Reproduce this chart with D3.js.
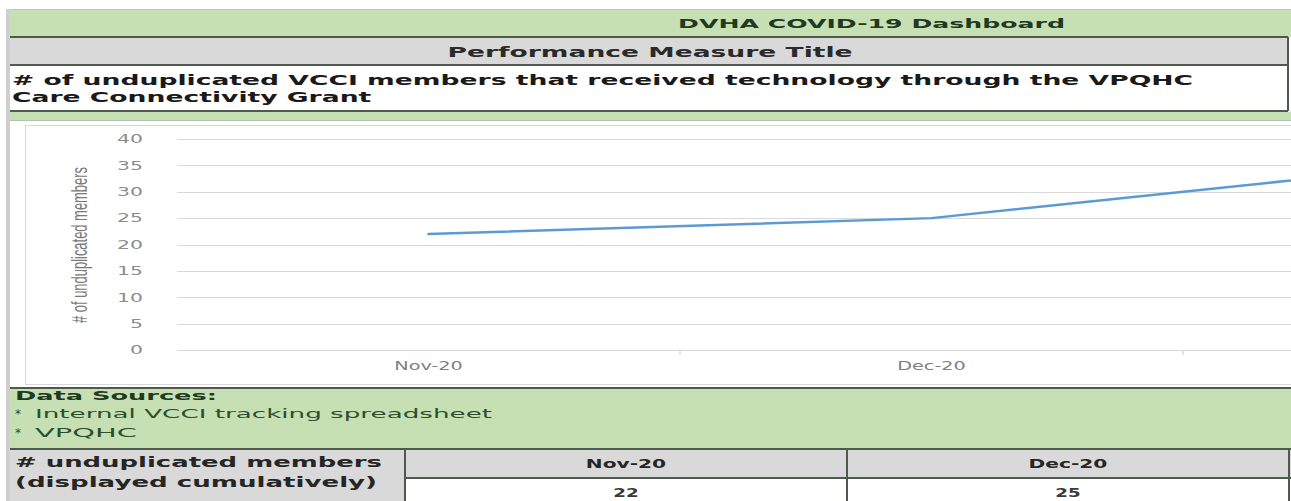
<!DOCTYPE html>
<html>
<head>
<meta charset="utf-8">
<script src="https://cdn.jsdelivr.net/npm/d3@7"></script>
<style>
  html, body { margin: 0; padding: 0; background: #ffffff; }
  svg { display: block; font-family: "DejaVu Sans", Verdana, sans-serif; }
</style>
</head>
<body>
<div id="dash"></div>
<script>
// chart data
const months = ["Nov-20", "Dec-20", "Jan-21"];
const members = [22, 25, 35];
const yTicks = [0, 5, 10, 15, 20, 25, 30, 35, 40];

// text of the sheet
const dashTitle = "DVHA COVID-19 Dashboard";
const measureHead = "Performance Measure Title";
const measureLines = ["# of unduplicated VCCI members that received technology through the VPQHC",
                      "Care Connectivity Grant"];
const yTitle = "# of unduplicated members";
const sourcesHead = "Data Sources:";
const sources = ["Internal VCCI tracking spreadsheet", "VPQHC"];
const rowLabel = ["# unduplicated members", "(displayed cumulatively)"];

const W = 1291, H = 501;
const green = "#c6e0b4", grey = "#d9d9d9", dark = "#4e5a4e";

const svg = d3.select("#dash").append("svg")
    .attr("width", W)
    .attr("height", H);

// stretch text to a given width (the screenshot is wide)
function fit(sel, w) {
    sel.attr("textLength", w).attr("lengthAdjust", "spacingAndGlyphs");
}
function stretch(sel, k) {
    sel.each(function () {
        const n = this.getComputedTextLength();
        d3.select(this).attr("textLength", n * k).attr("lengthAdjust", "spacingAndGlyphs");
    });
}

// left outer border
svg.append("rect").attr("x", 6).attr("y", 9).attr("width", 4).attr("height", H - 9).attr("fill", "#cfcfcf");

// header band
svg.append("rect").attr("x", 10).attr("y", 9).attr("width", W - 10).attr("height", 28).attr("fill", green);
svg.append("line").attr("x1", 10).attr("x2", W).attr("y1", 9.5).attr("y2", 9.5).attr("stroke", "#b9c9b0");
svg.append("text").attr("x", 678).attr("y", 28)
    .attr("font-size", 13).attr("font-weight", "bold").attr("fill", "#1f3a1f")
    .text(dashTitle).call(fit, 387);

// measure title rows
svg.append("rect").attr("x", 10).attr("y", 38).attr("width", 1278).attr("height", 27).attr("fill", grey);
svg.append("text").attr("x", 650).attr("y", 57).attr("text-anchor", "middle")
    .attr("font-size", 13.5).attr("font-weight", "bold").attr("fill", "#2a2a2a")
    .text(measureHead).call(fit, 405);

svg.append("rect").attr("x", 10).attr("y", 66).attr("width", 1278).attr("height", 44).attr("fill", "#ffffff");
const t1 = svg.append("text").attr("x", 12).attr("y", 85)
    .attr("font-size", 14).attr("font-weight", "bold").attr("fill", "#1a1a1a")
    .text(measureLines[0]);
const k = 1181 / t1.node().getComputedTextLength();
fit(t1, 1181);
svg.append("text").attr("x", 12).attr("y", 102)
    .attr("font-size", 14).attr("font-weight", "bold").attr("fill", "#1a1a1a")
    .text(measureLines[1]).call(stretch, k);

svg.append("rect").attr("x", 10).attr("y", 112).attr("width", W - 10).attr("height", 8).attr("fill", green);

[37, 65, 111].forEach(yy => {
    svg.append("line").attr("x1", 10).attr("x2", 1288).attr("y1", yy).attr("y2", yy)
        .attr("stroke", dark).attr("stroke-width", 2);
});
svg.append("line").attr("x1", 1288).attr("x2", 1288).attr("y1", 37).attr("y2", 111)
    .attr("stroke", dark).attr("stroke-width", 2);
svg.append("line").attr("x1", 10).attr("x2", W).attr("y1", 120.5).attr("y2", 120.5).attr("stroke", "#b5c0b0");

// chart area
svg.append("rect").attr("x", 25.5).attr("y", 125.5).attr("width", 1300).attr("height", 259)
    .attr("fill", "#ffffff").attr("stroke", "#d9d9d9");

const x = d3.scaleBand().domain(months).range([177, 177 + 503 * months.length]).padding(0);
const y = d3.scaleLinear().domain([0, 40]).range([350, 139]);
const onScreen = d => x(d) + x.bandwidth() / 2 < W - 40;

// gridlines
svg.append("g").selectAll("line").data(yTicks).join("line")
    .attr("x1", 177).attr("x2", W)
    .attr("y1", d => Math.round(y(d)) + 0.5).attr("y2", d => Math.round(y(d)) + 0.5)
    .attr("stroke", "#d9d9d9").attr("stroke-width", 1.2);

// y axis
const gy = svg.append("g").attr("transform", "translate(177,0)")
    .call(d3.axisLeft(y).tickValues(yTicks).tickSize(0).tickPadding(34));
gy.select(".domain").remove();
gy.selectAll("text").attr("font-size", 12).attr("fill", "#8c8c8c")
    .attr("font-family", "DejaVu Sans, sans-serif").call(stretch, 1.7);

// x axis (only the categories that fall inside the window get a label)
const gx = svg.append("g").attr("transform", "translate(0,350)")
    .call(d3.axisBottom(x).tickValues(months.filter(onScreen)).tickSize(0).tickPadding(11));
gx.select(".domain").remove();
gx.selectAll("text").attr("font-size", 12).attr("fill", "#7f7f7f")
    .attr("font-family", "DejaVu Sans, sans-serif").call(stretch, 1.6);

// category boundary ticks
svg.append("g").selectAll("line").data(months.slice(1)).join("line")
    .attr("x1", d => x(d)).attr("x2", d => x(d))
    .attr("y1", 351).attr("y2", 355)
    .attr("stroke", "#c8c8c8");

// y title
svg.append("text")
    .attr("transform", "translate(87,245) rotate(-90) scale(1,1.75)")
    .attr("text-anchor", "middle")
    .attr("font-family", "Liberation Sans, Arial, sans-serif")
    .attr("font-size", 12.5).attr("fill", "#7a7a7a")
    .text(yTitle).call(fit, 156);

// the line
const pts = months.map((m, i) => ({ m: m, v: members[i] }));
svg.append("path").datum(pts)
    .attr("fill", "none").attr("stroke", "#5b9bd5").attr("stroke-width", 2.5)
    .attr("stroke-linejoin", "round").attr("stroke-linecap", "round")
    .attr("d", d3.line().x(d => x(d.m) + x.bandwidth() / 2).y(d => y(d.v)));

// data sources band
svg.append("rect").attr("x", 10).attr("y", 389).attr("width", W - 10).attr("height", 60).attr("fill", green);
svg.append("line").attr("x1", 10).attr("x2", W).attr("y1", 388).attr("y2", 388)
    .attr("stroke", dark).attr("stroke-width", 2);
svg.append("text").attr("x", 15).attr("y", 400)
    .attr("font-size", 12).attr("font-weight", "bold").attr("fill", "#1f3a1f")
    .text(sourcesHead).call(fit, 202);
const srcW = [457, 102];
sources.forEach((s, i) => {
    svg.append("text").attr("x", 15).attr("y", 418 + i * 19)
        .attr("font-size", 12).attr("fill", "#2c4f2c").text("*");
    svg.append("text").attr("x", 35).attr("y", 418 + i * 19)
        .attr("font-size", 12).attr("fill", "#2c4f2c")
        .text(s).call(fit, srcW[i]);
});

// table
const tx = d3.scaleBand().domain(months).range([405, 405 + 442 * months.length]);
const colOn = d => tx(d) + tx.bandwidth() / 2 < W - 40;
svg.append("rect").attr("x", 10).attr("y", 449).attr("width", 395).attr("height", H - 449).attr("fill", grey);
svg.selectAll(".hcell").data(months).join("rect").attr("class", "hcell")
    .attr("x", d => tx(d)).attr("y", 449).attr("width", tx.bandwidth()).attr("height", 29).attr("fill", grey);
svg.selectAll(".vcell").data(months).join("rect").attr("class", "vcell")
    .attr("x", d => tx(d)).attr("y", 478).attr("width", tx.bandwidth()).attr("height", H - 478).attr("fill", "#ffffff");

rowLabel.forEach((s, i) => {
    svg.append("text").attr("x", 15).attr("y", 467 + i * 20)
        .attr("font-size", 13.5).attr("font-weight", "bold").attr("fill", "#262626")
        .text(s).call(fit, [367, 362][i]);
});
svg.selectAll(".hlab").data(months.filter(colOn)).join("text").attr("class", "hlab")
    .attr("x", d => tx(d) + tx.bandwidth() / 2).attr("y", 468)
    .attr("text-anchor", "middle").attr("font-size", 13).attr("font-weight", "bold").attr("fill", "#262626")
    .text(d => d).call(stretch, 1.55);
svg.selectAll(".vlab").data(pts.filter(d => colOn(d.m))).join("text").attr("class", "vlab")
    .attr("x", d => tx(d.m) + tx.bandwidth() / 2).attr("y", 497)
    .attr("text-anchor", "middle").attr("font-size", 13).attr("font-weight", "bold").attr("fill", "#3a3a3a")
    .text(d => d.v).call(stretch, 1.4);

svg.append("line").attr("x1", 10).attr("x2", W).attr("y1", 449).attr("y2", 449)
    .attr("stroke", dark).attr("stroke-width", 2);
svg.append("line").attr("x1", 405).attr("x2", W).attr("y1", 478).attr("y2", 478)
    .attr("stroke", dark).attr("stroke-width", 2);
svg.selectAll(".vdiv").data(months).join("line").attr("class", "vdiv")
    .attr("x1", d => tx(d)).attr("x2", d => tx(d))
    .attr("y1", 449).attr("y2", H)
    .attr("stroke", dark).attr("stroke-width", 2);
</script>
</body>
</html>
